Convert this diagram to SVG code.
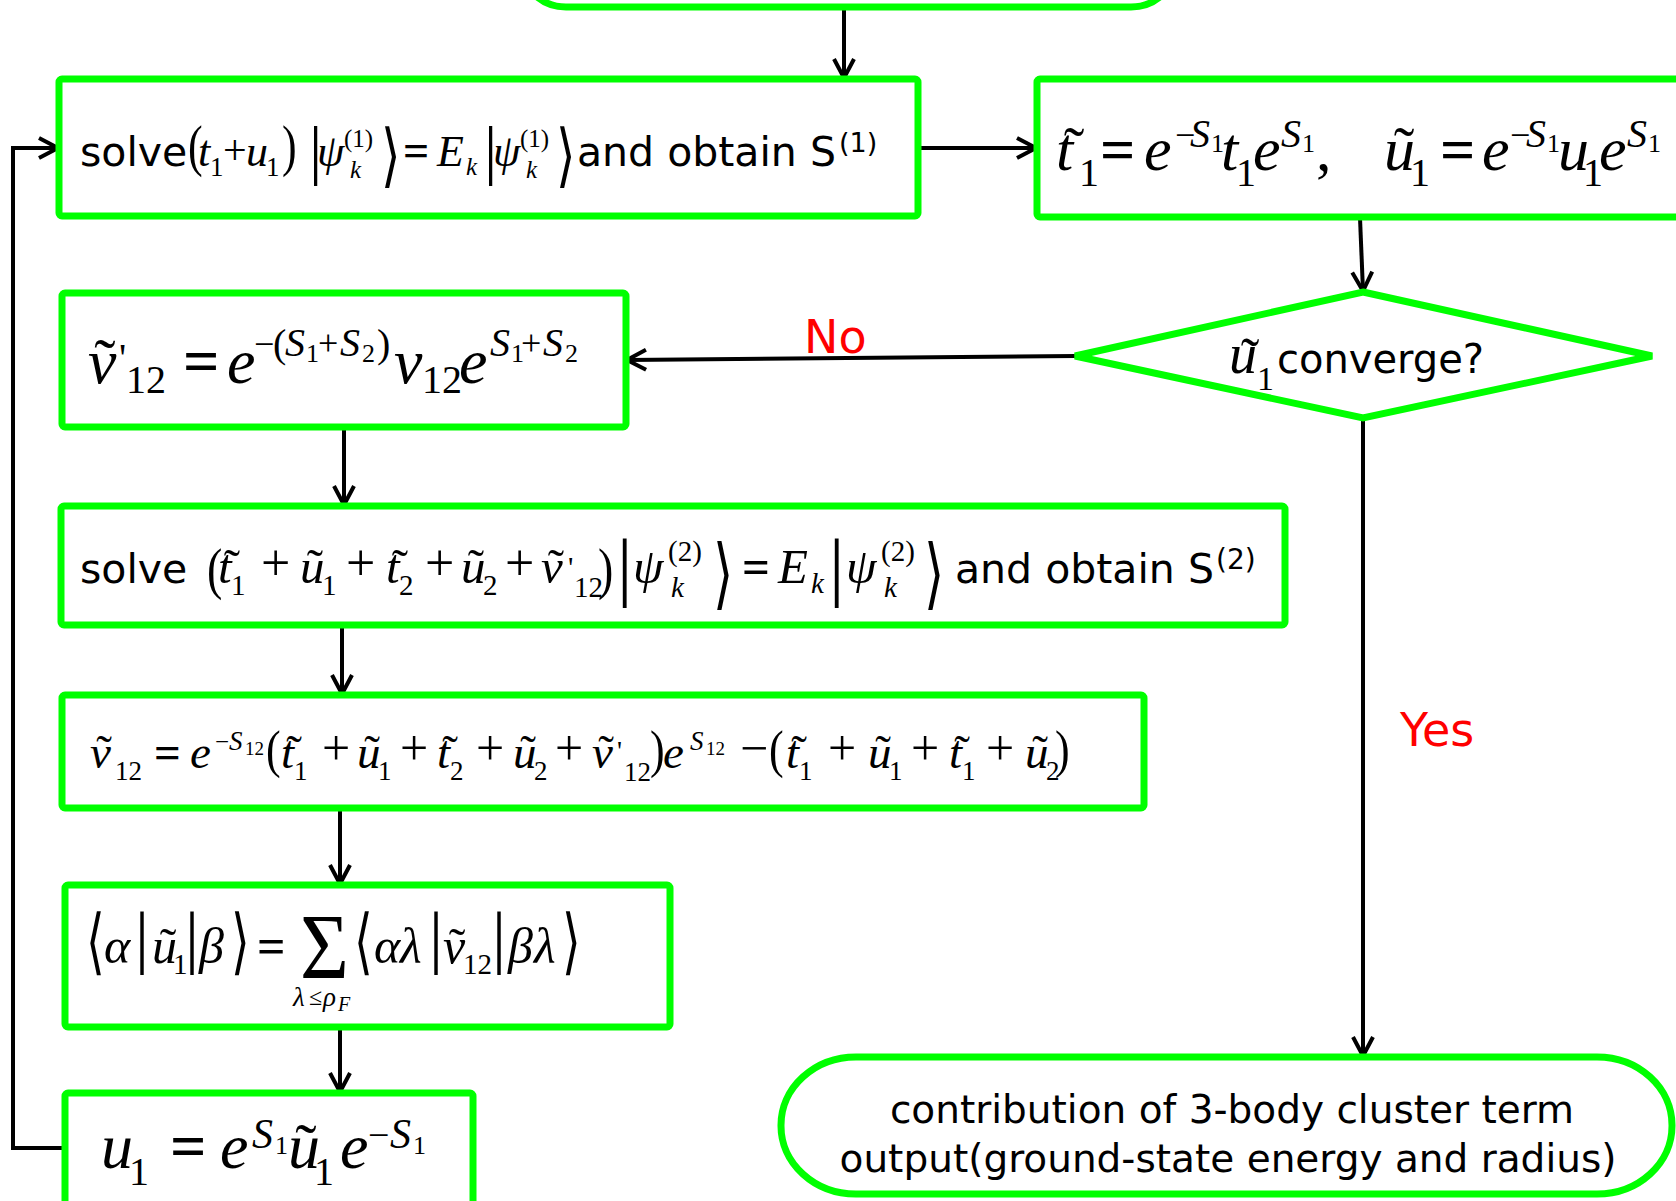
<svg xmlns="http://www.w3.org/2000/svg" width="1676" height="1201" viewBox="0 0 1676 1201">
<defs>
<style>
.node{fill:#fff;stroke:#00FF00;stroke-width:7}
.conn{fill:none;stroke:#000;stroke-width:4}
.mi{font-family:"Liberation Serif","DejaVu Serif",serif;font-style:italic;fill:#000}
.mr{font-family:"Liberation Serif","DejaVu Serif",serif;font-style:normal;fill:#000}
.eq{font-family:"Liberation Serif","DejaVu Serif",serif;font-style:normal;font-weight:bold;fill:#000}
.br{font-family:"DejaVu Sans",sans-serif;fill:#000}
.tx{font-family:"DejaVu Sans",Verdana,sans-serif;fill:#000}
.lbl{font-family:"DejaVu Sans",Verdana,sans-serif;fill:#FF0000;font-size:46px}
</style>
<marker id="ah" viewBox="0 0 24 24" refX="22" refY="12" markerWidth="24" markerHeight="24" markerUnits="userSpaceOnUse" orient="auto">
<path d="M3,2 L22,12 L3,22" fill="none" stroke="#000" stroke-width="4"/>
</marker>
</defs>
<rect width="1676" height="1201" fill="#fff"/>

<g id="connectors">
<line class="conn" x1="844" y1="9" x2="844" y2="78" marker-end="url(#ah)"/>
<line class="conn" x1="919" y1="148" x2="1036" y2="148" marker-end="url(#ah)"/>
<line class="conn" x1="1360" y1="218" x2="1363" y2="291" marker-end="url(#ah)"/>
<line class="conn" x1="1076" y1="356" x2="627" y2="360" marker-end="url(#ah)"/>
<line class="conn" x1="344" y1="428" x2="344" y2="505" marker-end="url(#ah)"/>
<line class="conn" x1="342" y1="626" x2="342" y2="694" marker-end="url(#ah)"/>
<line class="conn" x1="340" y1="809" x2="340" y2="884" marker-end="url(#ah)"/>
<line class="conn" x1="340" y1="1028" x2="340" y2="1092" marker-end="url(#ah)"/>
<polyline class="conn" points="66,1148 13,1148 13,148 58,148" marker-end="url(#ah)"/>
<line class="conn" x1="1363" y1="419" x2="1363" y2="1056" marker-end="url(#ah)"/>
<text class="lbl" x="804" y="353">No</text>
<text class="lbl" x="1400" y="746">Yes</text>
</g>

<g id="start">
<rect class="node" x="521" y="-80" width="655" height="87" rx="45" ry="45"/>
</g>

<g id="n1">
<rect class="node" x="59" y="79" width="859" height="137" rx="3"/>
<text class="tx" x="80" y="166" font-size="41">solve</text>
<text class="mr" font-size="44" transform="translate(188,165) scale(1,1.3)">(</text>
<text class="mr" font-size="44" transform="translate(282,165) scale(1,1.3)">)</text>
<text class="mr" x="309" y="172" font-size="66">|</text>
<text class="mr" x="484" y="172" font-size="66">|</text>
<text class="br" font-size="50" transform="translate(381,179) scale(1,1.39)">⟩</text>
<text class="br" font-size="50" transform="translate(556,179) scale(1,1.39)">⟩</text>
<text class="mi" font-size="44"><tspan x="198" y="166">t</tspan><tspan class="mr" x="210" y="176" font-size="27">1</tspan><tspan class="mr" x="223" y="164" font-size="42">+</tspan><tspan x="246" y="166">u</tspan><tspan class="mr" x="266" y="176" font-size="27">1</tspan><tspan x="317" y="166">ψ</tspan><tspan class="mr" x="344" y="147" font-size="25">(1)</tspan><tspan x="350" y="178" font-size="25">k</tspan><tspan class="eq" x="403" y="166" font-size="46">=</tspan><tspan x="437" y="166">E</tspan><tspan x="466" y="175" font-size="25">k</tspan><tspan x="493" y="166">ψ</tspan><tspan class="mr" x="520" y="147" font-size="25">(1)</tspan><tspan x="526" y="178" font-size="25">k</tspan></text>
<text class="tx" x="577" y="166" font-size="41">and obtain S<tspan x="839" y="152" font-size="27">(1)</tspan></text>
</g>

<g id="n2">
<rect class="node" x="1037" y="79" width="700" height="138" rx="3"/>
<text class="mr" font-size="62" text-anchor="middle"><tspan x="1074" y="170">˜</tspan><tspan x="1404" y="170">˜</tspan></text>
<text class="mi" font-size="62"><tspan x="1056" y="170">t</tspan><tspan class="mr" x="1079" y="186" font-size="40">1</tspan><tspan class="eq" x="1100" y="170">=</tspan><tspan x="1144" y="170">e</tspan><tspan class="mr" x="1175" y="147" font-size="36">−</tspan><tspan x="1190" y="147" font-size="40">S</tspan><tspan class="mr" x="1211" y="152" font-size="26">1</tspan><tspan x="1221" y="170">t</tspan><tspan class="mr" x="1236" y="186" font-size="40">1</tspan><tspan x="1253" y="170">e</tspan><tspan x="1281" y="147" font-size="40">S</tspan><tspan class="mr" x="1302" y="152" font-size="26">1</tspan><tspan class="mr" x="1316" y="170">,</tspan><tspan x="1384" y="170">u</tspan><tspan class="mr" x="1410" y="186" font-size="40">1</tspan><tspan class="eq" x="1440" y="170">=</tspan><tspan x="1482" y="170">e</tspan><tspan class="mr" x="1510" y="147" font-size="36">−</tspan><tspan x="1526" y="147" font-size="40">S</tspan><tspan class="mr" x="1547" y="152" font-size="26">1</tspan><tspan x="1558" y="170">u</tspan><tspan class="mr" x="1583" y="186" font-size="40">1</tspan><tspan x="1599" y="170">e</tspan><tspan x="1627" y="147" font-size="40">S</tspan><tspan class="mr" x="1648" y="152" font-size="26">1</tspan></text>
</g>

<g id="decision">
<polygon class="node" points="1363,292 1652,356 1363,418 1075,356"/>
<text class="mr" x="1250" y="377" font-size="56" text-anchor="middle">˜</text>
<text class="mi" font-size="56"><tspan x="1229" y="373">u</tspan><tspan class="mr" x="1257" y="390" font-size="34">1</tspan></text>
<text class="tx" x="1277" y="373" font-size="40">converge?</text>
</g>

<g id="n3">
<rect class="node" x="62" y="293" width="564" height="134" rx="3"/>
<text class="mr" x="105" y="383" font-size="64" text-anchor="middle">˜</text>
<text class="mi" font-size="64"><tspan x="88" y="383">v</tspan><tspan class="mr" x="119" y="371" font-size="40">'</tspan><tspan class="mr" x="126" y="393" font-size="40">12</tspan><tspan class="eq" x="183" y="383">=</tspan><tspan x="227" y="383">e</tspan><tspan class="mr" x="254" y="356" font-size="36">−</tspan><tspan class="mr" x="273" y="357" font-size="40">(</tspan><tspan x="285" y="356" font-size="40">S</tspan><tspan class="mr" x="306" y="362" font-size="26">1</tspan><tspan class="mr" x="318" y="355" font-size="36">+</tspan><tspan x="340" y="356" font-size="40">S</tspan><tspan class="mr" x="362" y="362" font-size="26">2</tspan><tspan class="mr" x="377" y="357" font-size="40">)</tspan><tspan x="394" y="383">v</tspan><tspan class="mr" x="422" y="393" font-size="40">12</tspan><tspan x="459" y="383">e</tspan><tspan x="490" y="356" font-size="40">S</tspan><tspan class="mr" x="511" y="362" font-size="26">1</tspan><tspan class="mr" x="521" y="355" font-size="36">+</tspan><tspan x="543" y="356" font-size="40">S</tspan><tspan class="mr" x="565" y="362" font-size="26">2</tspan></text>
</g>

<g id="n4">
<rect class="node" x="61" y="506" width="1224" height="119" rx="3"/>
<text class="tx" x="80" y="583" font-size="41">solve</text>
<text class="mr" font-size="46" transform="translate(207,588) scale(1,1.25)">(</text>
<text class="mr" font-size="46" transform="translate(598,588) scale(1,1.25)">)</text>
<text class="mr" x="617" y="592" font-size="77">|</text>
<text class="mr" x="829" y="592" font-size="77">|</text>
<text class="br" font-size="52" transform="translate(713,600) scale(1,1.49)">⟩</text>
<text class="br" font-size="52" transform="translate(924,600) scale(1,1.49)">⟩</text>
<text class="mr" font-size="49" text-anchor="middle"><tspan x="232" y="583">˜</tspan><tspan x="315" y="583">˜</tspan><tspan x="400" y="583">˜</tspan><tspan x="476" y="583">˜</tspan><tspan x="556" y="583">˜</tspan></text>
<text class="mi" font-size="49"><tspan x="218" y="583">t</tspan><tspan class="mr" x="231" y="595" font-size="29">1</tspan><tspan class="mr" x="261" y="580" font-size="52">+</tspan><tspan x="300" y="583">u</tspan><tspan class="mr" x="322" y="595" font-size="29">1</tspan><tspan class="mr" x="346" y="580" font-size="52">+</tspan><tspan x="386" y="583">t</tspan><tspan class="mr" x="399" y="595" font-size="29">2</tspan><tspan class="mr" x="425" y="580" font-size="52">+</tspan><tspan x="461" y="583">u</tspan><tspan class="mr" x="483" y="595" font-size="29">2</tspan><tspan class="mr" x="505" y="580" font-size="52">+</tspan><tspan x="541" y="583">v</tspan><tspan class="mr" x="568" y="577" font-size="30">'</tspan><tspan class="mr" x="574" y="597" font-size="29">12</tspan><tspan x="633" y="583">ψ</tspan><tspan class="mr" x="668" y="561" font-size="29">(2)</tspan><tspan x="671" y="597" font-size="29">k</tspan><tspan class="eq" x="742" y="583">=</tspan><tspan x="778" y="583">E</tspan><tspan x="811" y="593" font-size="29">k</tspan><tspan x="846" y="583">ψ</tspan><tspan class="mr" x="881" y="561" font-size="29">(2)</tspan><tspan x="884" y="597" font-size="29">k</tspan></text>
<text class="tx" x="955" y="583" font-size="41">and obtain S<tspan x="1216" y="569" font-size="28">(2)</tspan></text>
</g>

<g id="n5">
<rect class="node" x="62" y="695" width="1082" height="113" rx="3"/>
<text class="mr" font-size="44" transform="translate(266,767) scale(1,1.2)">(</text>
<text class="mr" font-size="44" transform="translate(650,767) scale(1,1.2)">)</text>
<text class="mr" font-size="44" transform="translate(769,767) scale(1,1.2)">(</text>
<text class="mr" font-size="44" transform="translate(1055,767) scale(1,1.2)">)</text>
<text class="mr" font-size="47" text-anchor="middle"><tspan x="104" y="768">˜</tspan><tspan x="294" y="768">˜</tspan><tspan x="372" y="768">˜</tspan><tspan x="450" y="768">˜</tspan><tspan x="528" y="768">˜</tspan><tspan x="606" y="768">˜</tspan><tspan x="799" y="768">˜</tspan><tspan x="883" y="768">˜</tspan><tspan x="962" y="768">˜</tspan><tspan x="1040" y="768">˜</tspan></text>
<text class="mi" font-size="47"><tspan x="90" y="768">v</tspan><tspan class="mr" x="115" y="780" font-size="27">12</tspan><tspan class="eq" x="154" y="768">=</tspan><tspan x="190" y="768">e</tspan><tspan class="mr" x="215" y="750" font-size="25">−</tspan><tspan x="229" y="750" font-size="27">S</tspan><tspan class="mr" x="245" y="755" font-size="19">12</tspan><tspan x="281" y="768">t</tspan><tspan class="mr" x="294" y="780" font-size="27">1</tspan><tspan class="mr" x="322" y="765" font-size="50">+</tspan><tspan x="357" y="768">u</tspan><tspan class="mr" x="378" y="780" font-size="27">1</tspan><tspan class="mr" x="400" y="765" font-size="50">+</tspan><tspan x="437" y="768">t</tspan><tspan class="mr" x="450" y="780" font-size="27">2</tspan><tspan class="mr" x="476" y="765" font-size="50">+</tspan><tspan x="513" y="768">u</tspan><tspan class="mr" x="534" y="780" font-size="27">2</tspan><tspan class="mr" x="555" y="765" font-size="50">+</tspan><tspan x="592" y="768">v</tspan><tspan class="mr" x="617" y="760" font-size="28">'</tspan><tspan class="mr" x="624" y="781" font-size="27">12</tspan><tspan x="663" y="768">e</tspan><tspan x="690" y="750" font-size="27">S</tspan><tspan class="mr" x="706" y="755" font-size="19">12</tspan><tspan class="mr" x="740" y="765" font-size="50">−</tspan><tspan x="786" y="768">t</tspan><tspan class="mr" x="799" y="780" font-size="27">1</tspan><tspan class="mr" x="828" y="765" font-size="50">+</tspan><tspan x="868" y="768">u</tspan><tspan class="mr" x="889" y="780" font-size="27">1</tspan><tspan class="mr" x="911" y="765" font-size="50">+</tspan><tspan x="949" y="768">t</tspan><tspan class="mr" x="962" y="780" font-size="27">1</tspan><tspan class="mr" x="986" y="765" font-size="50">+</tspan><tspan x="1025" y="768">u</tspan><tspan class="mr" x="1046" y="780" font-size="27">2</tspan></text>
</g>

<g id="n6">
<rect class="node" x="65" y="885" width="605" height="142" rx="3"/>
<text class="br" font-size="48" transform="translate(86,966) scale(1,1.5)">⟨</text>
<text class="br" font-size="48" transform="translate(231,966) scale(1,1.5)">⟩</text>
<text class="br" font-size="48" transform="translate(354,966) scale(1,1.5)">⟨</text>
<text class="br" font-size="48" transform="translate(562,966) scale(1,1.5)">⟩</text>
<text class="mr" font-size="70"><tspan x="135" y="960">|</tspan><tspan x="185" y="960">|</tspan><tspan x="429" y="960">|</tspan><tspan x="492" y="960">|</tspan></text>
<text class="mr" font-size="84" transform="translate(300,978) scale(1,1.1)">Σ</text>
<text class="mr" font-size="50" text-anchor="middle"><tspan x="168" y="963">˜</tspan><tspan x="457" y="963">˜</tspan></text>
<text class="mi" font-size="50"><tspan x="104" y="963">α</tspan><tspan x="152" y="963">u</tspan><tspan class="mr" x="173" y="974" font-size="29">1</tspan><tspan x="199" y="963">β</tspan><tspan class="eq" x="257" y="963">=</tspan><tspan x="374" y="963">α</tspan><tspan x="400" y="963">λ</tspan><tspan x="443" y="963">v</tspan><tspan class="mr" x="463" y="974" font-size="29">12</tspan><tspan x="508" y="963">β</tspan><tspan x="534" y="963">λ</tspan></text>
<text class="mi" font-size="27"><tspan x="293" y="1006">λ</tspan><tspan class="mr" x="309" y="1005" font-size="24">≤</tspan><tspan x="323" y="1006">ρ</tspan><tspan x="338" y="1011" font-size="20">F</tspan></text>
</g>

<g id="n7">
<rect class="node" x="65" y="1093" width="408" height="150" rx="3"/>
<text class="mr" x="306" y="1168" font-size="64" text-anchor="middle">˜</text>
<text class="mi" font-size="64"><tspan x="101" y="1168">u</tspan><tspan class="mr" x="129" y="1185" font-size="40">1</tspan><tspan class="eq" x="170" y="1168">=</tspan><tspan x="220" y="1168">e</tspan><tspan x="252" y="1148" font-size="42">S</tspan><tspan class="mr" x="275" y="1154" font-size="26">1</tspan><tspan x="288" y="1168">u</tspan><tspan class="mr" x="314" y="1185" font-size="40">1</tspan><tspan x="340" y="1168">e</tspan><tspan class="mr" x="368" y="1148" font-size="38">−</tspan><tspan x="390" y="1148" font-size="42">S</tspan><tspan class="mr" x="413" y="1154" font-size="26">1</tspan></text>
</g>

<g id="end">
<rect class="node" x="781" y="1057" width="891" height="137" rx="75" ry="68"/>
<text class="tx" x="1232" y="1123" font-size="39" text-anchor="middle">contribution of 3-body cluster term</text>
<text class="tx" x="1228" y="1172" font-size="39" text-anchor="middle">output(ground-state energy and radius)</text>
</g>
</svg>
